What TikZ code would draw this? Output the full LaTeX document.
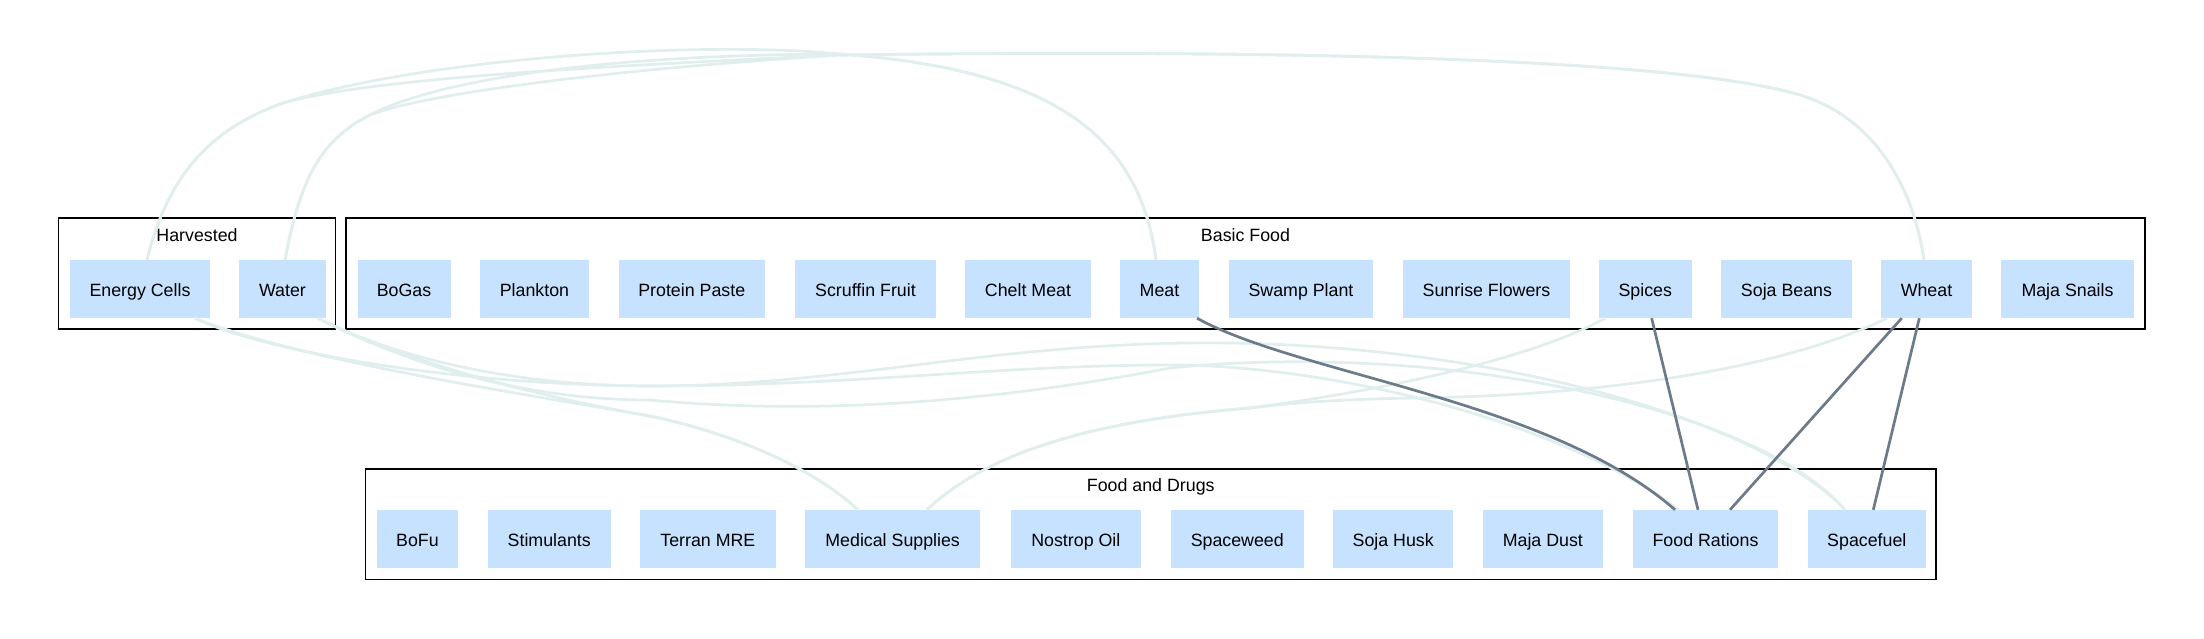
\documentclass[tikz,border=0pt]{standalone}
\usepackage{fontspec}
\setmainfont{Liberation Sans}
\definecolor{nodefill}{HTML}{C6E2FF}
\definecolor{lightedge}{HTML}{E0EFEE}
\definecolor{darkedge}{HTML}{6C7B8B}
\newcommand\nfont{\fontsize{17.8}{20}\selectfont}
\tikzset{
  boxnode/.style={fill=nodefill, draw=none, inner sep=0pt, minimum height=58pt,
    text height=15pt, text depth=0pt, font=\nfont},
  clusterbox/.style={draw=black, line width=1.2pt, fill=none, inner sep=0pt},
  clusterlabel/.style={font=\nfont, anchor=base, inner sep=0pt},
  lightline/.style={draw=lightedge, line width=2.7pt},
  darkline/.style={draw=darkedge, line width=2.7pt},
}
\begin{document}
\begin{tikzpicture}[x=1pt,y=-1pt]
\useasboundingbox (0,0) rectangle (2204,638);
\fill[white] (0,0) rectangle (2204,638);

% clusters
\node[clusterbox, minimum width=277pt, minimum height=111pt] (harvested) at (197,273.5) {};
\node[clusterbox, minimum width=1799pt, minimum height=111pt] (basicfood) at (1245.5,273.5) {};
\node[clusterbox, minimum width=1570.5pt, minimum height=110.3pt] (fooddrugs) at (1150.75,524.15) {};
\node[clusterlabel] (harvestedlbl) at (197,241.6) {Harvested};
\node[clusterlabel] (basicfoodlbl) at (1245.5,241.6) {Basic Food};
\node[clusterlabel] (fooddrugslbl) at (1150.75,491.6) {Food and Drugs};

% nodes (top row)
\node[boxnode, minimum width=140pt] (ec) at (140,289) {Energy Cells};
\node[boxnode, minimum width=87pt] (water) at (282.5,289) {Water};
\node[boxnode, minimum width=93pt] (bogas) at (404,289) {BoGas};
\node[boxnode, minimum width=109pt] (plankton) at (534.5,289) {Plankton};
\node[boxnode, minimum width=145.5pt] (ppaste) at (691.75,289) {Protein Paste};
\node[boxnode, minimum width=141pt] (scruffin) at (865.5,289) {Scruffin Fruit};
\node[boxnode, minimum width=126pt] (chelt) at (1028,289) {Chelt Meat};
\node[boxnode, minimum width=79pt] (meat) at (1159.5,289) {Meat};
\node[boxnode, minimum width=144pt] (swamp) at (1301,289) {Swamp Plant};
\node[boxnode, minimum width=167pt] (sunrise) at (1486.5,289) {Sunrise Flowers};
\node[boxnode, minimum width=92.5pt] (spices) at (1645.25,289) {Spices};
\node[boxnode, minimum width=131pt] (sojab) at (1786.5,289) {Soja Beans};
\node[boxnode, minimum width=91pt] (wheat) at (1926.5,289) {Wheat};
\node[boxnode, minimum width=133pt] (majas) at (2067.5,289) {Maja Snails};

% nodes (bottom row)
\node[boxnode, minimum width=81.4pt] (bofu) at (417.4,539) {BoFu};
\node[boxnode, minimum width=123.5pt] (stim) at (549.25,539) {Stimulants};
\node[boxnode, minimum width=136pt] (terran) at (707.85,539) {Terran MRE};
\node[boxnode, minimum width=174.7pt] (medsup) at (892.65,539) {Medical Supplies};
\node[boxnode, minimum width=130pt] (nostrop) at (1075.85,539) {Nostrop Oil};
\node[boxnode, minimum width=132.5pt] (spaceweed) at (1237.25,539) {Spaceweed};
\node[boxnode, minimum width=120.4pt] (sojah) at (1393.2,539) {Soja Husk};
\node[boxnode, minimum width=119.7pt] (majad) at (1542.85,539) {Maja Dust};
\node[boxnode, minimum width=145pt] (foodr) at (1705.5,539) {Food Rations};
\node[boxnode, minimum width=118.4pt] (spacefuel) at (1866.8,539) {Spacefuel};

% light edges over the top
\draw[lightline] ([xshift=7pt]ec.north) .. controls (168,175) and (210,130) .. (280,104)
  .. controls (420,58) and (700,40) .. (840,54)
  .. controls (1060,70) and (1140,140) .. ([xshift=-3.5pt]meat.north);
\draw[lightline] ([xshift=7pt]ec.north) .. controls (168,175) and (210,130) .. (280,104)
  .. controls (360,80) and (560,68) .. (840,55)
  .. controls (1400,48) and (1700,65) .. (1800,95)
  .. controls (1870,116) and (1912,180) .. ([xshift=-2.5pt]wheat.north);
\draw[lightline] ([xshift=2.5pt]water.north) .. controls (300,180) and (320,140) .. (370,115)
  .. controls (420,88) and (560,55) .. (840,54)
  .. controls (1060,70) and (1140,140) .. ([xshift=-3.5pt]meat.north);
\draw[lightline] ([xshift=2.5pt]water.north) .. controls (300,180) and (320,140) .. (370,115)
  .. controls (420,95) and (600,70) .. (840,55)
  .. controls (1400,48) and (1700,65) .. (1800,95)
  .. controls (1870,116) and (1912,180) .. ([xshift=-2.5pt]wheat.north);

% light edges below
\draw[lightline] ([xshift=55pt]ec.south) .. controls (300,360) and (500,390) .. (650,416)
  .. controls (740,435) and (815,470) .. ([xshift=-34.65pt]medsup.north);
\draw[lightline] ([xshift=35.5pt]water.south) .. controls (380,350) and (500,390) .. (650,416)
  .. controls (740,435) and (815,470) .. ([xshift=-34.65pt]medsup.north);
\draw[lightline] ([xshift=55pt]ec.south) .. controls (260,350) and (450,385) .. (650,386)
  .. controls (850,386) and (1000,340) .. (1230,343)
  .. controls (1500,347) and (1760,420) .. ([xshift=-21.8pt]spacefuel.north);
\draw[lightline] ([xshift=35.5pt]water.south) .. controls (400,360) and (520,386) .. (650,386)
  .. controls (850,386) and (1000,365) .. (1170,365)
  .. controls (1330,365) and (1560,420) .. ([xshift=-27pt]foodr.north);
\draw[lightline] ([xshift=35.5pt]water.south) .. controls (380,350) and (500,400) .. (650,400)
  .. controls (780,412) and (950,410) .. (1170,368)
  .. controls (1450,340) and (1760,410) .. ([xshift=-21.8pt]spacefuel.north);
\draw[lightline] ([xshift=-40pt]spices.south) .. controls (1520,365) and (1350,395) .. (1250,408)
  .. controls (1100,420) and (990,450) .. ([xshift=34.35pt]medsup.north);
\draw[lightline] ([xshift=-39.5pt]wheat.south) .. controls (1780,370) and (1600,395) .. (1420,398)
  .. controls (1340,399) and (1290,403) .. (1250,408)
  .. controls (1100,420) and (990,450) .. ([xshift=34.35pt]medsup.north);

% dark edges
\draw[darkline] ([xshift=37.5pt]meat.south) .. controls (1300,375) and (1550,400) .. ([xshift=-30.5pt]foodr.north);
\draw[darkline] ([xshift=6.4pt]spices.south) -- ([xshift=-7.5pt]foodr.north);
\draw[darkline] ([xshift=-24.8pt]wheat.south) -- ([xshift=24.5pt]foodr.north);
\draw[darkline] ([xshift=-7.2pt]wheat.south) -- ([xshift=6.5pt]spacefuel.north);
\end{tikzpicture}
\end{document}
